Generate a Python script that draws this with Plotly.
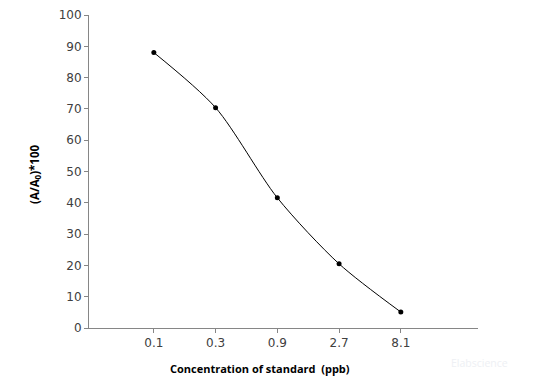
import plotly.graph_objects as go

categories = ["0.1", "0.3", "0.9", "2.7", "8.1"]
values = [88.0, 70.4, 41.6, 20.5, 5.1]
y_ticks = [0, 10, 20, 30, 40, 50, 60, 70, 80, 90, 100]

x_idx = list(range(len(categories)))

fig = go.Figure()
fig.add_trace(go.Scatter(
    x=x_idx, y=values, mode="lines+markers",
    line=dict(color="#000000", width=1, shape="spline", smoothing=0.8),
    marker=dict(color="#000000", size=5),
    showlegend=False,
))

axis_color = "#868686"
tick_font = dict(family="DejaVu Sans", size=12, color="#404040")

# page body has an 8px default margin, so the figure is sized to fit inside it
fig.update_layout(
    width=520, height=371,
    margin=dict(l=81, r=50, t=7, b=51, autoexpand=False),
    paper_bgcolor="white", plot_bgcolor="white",
    xaxis=dict(
        range=[-1.05, 5.25], tickmode="array", tickvals=x_idx, ticktext=categories,
        showgrid=False, zeroline=False, showline=True, linecolor=axis_color, linewidth=1,
        ticks="outside", ticklen=4, tickcolor=axis_color, tickfont=tick_font,
        automargin=False,
    ),
    yaxis=dict(
        range=[0, 100], tickmode="array", tickvals=y_ticks,
        showgrid=False, zeroline=False, showline=True, linecolor=axis_color, linewidth=1,
        ticks="outside", ticklen=4, tickcolor=axis_color, tickfont=tick_font,
        automargin=False,
    ),
    annotations=[
        dict(text="<b>Concentration of standard  (ppb)</b>", xref="paper", yref="paper",
             x=0.44, y=-0.128, xanchor="center", yanchor="middle", showarrow=False,
             font=dict(family="Open Sans", size=11, color="#000000")),
        dict(text="<b>(A/A<sub>0</sub>)*100</b>", xref="paper", yref="paper",
             x=-0.139, y=0.492, xanchor="center", yanchor="middle", showarrow=False,
             textangle=-90,
             font=dict(family="Open Sans", size=11.5, color="#000000")),
        dict(text="Elabscience", xref="paper", yref="paper",
             x=1.005, y=-0.112, xanchor="center", yanchor="middle", showarrow=False,
             font=dict(family="Open Sans", size=10.5, color="#eef0f4")),
    ],
)

fig.write_html("out.html")
